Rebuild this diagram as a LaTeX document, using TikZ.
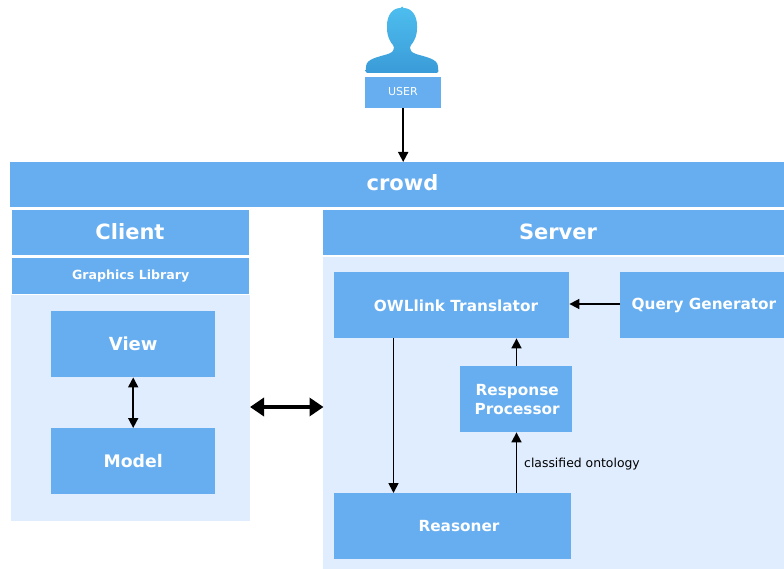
\documentclass[tikz,border=0pt]{standalone}
\usepackage{fontspec}
\setmainfont{DejaVu Sans}
\usetikzlibrary{arrows.meta}
\definecolor{boxblue}{HTML}{66AEF0}
\definecolor{panelblue}{HTML}{E0EDFE}
\definecolor{headtop}{HTML}{4DBDEE}
\definecolor{headbot}{HTML}{3A9BD8}
\tikzset{x=1pt,y=-1pt,
 boxn/.style={fill=boxblue,text=white,inner sep=0pt,align=center,anchor=north west},
 panel/.style={fill=panelblue,anchor=north west,inner sep=0pt},
 conn/.style={draw=black,line width=1.7pt,-{Triangle[length=10pt,width=10pt]}},
 twoway/.style={draw=black,line width=1.7pt,{Triangle[length=10pt,width=10pt]}-{Triangle[length=10pt,width=10pt]}},
 thick2/.style={draw=black,line width=4pt,{Triangle[length=14pt,width=18pt]}-{Triangle[length=14pt,width=18pt]}},
 big/.style={font=\fontsize{21}{25}\selectfont\bfseries},
 mid/.style={font=\fontsize{15.3}{19}\selectfont\bfseries}}
\begin{document}
\begin{tikzpicture}
\useasboundingbox (0,0) rectangle (784,569);
\fill[white] (0,0) rectangle (784,569);
% panels
\node[panel,minimum width=239pt,minimum height=226pt] (clientpanel) at (11,295) {};
\node[panel,minimum width=461pt,minimum height=312pt] (serverpanel) at (323,257) {};
% user
\shade[top color=headtop,bottom color=headbot,rounded corners=1.5pt]
 (402,8) .. controls (392,8) and (387,16) .. (387,27)
 .. controls (387,37) and (391,43) .. (394,46)
 .. controls (394,50) and (393,52) .. (388,54)
 .. controls (378,57) and (367,59) .. (366,67)
 -- (365.5,73) -- (438.5,73) -- (438,67)
 .. controls (437,59) and (426,57) .. (416,54)
 .. controls (411,52) and (410,50) .. (410,46)
 .. controls (413,43) and (417,37) .. (417,27)
 .. controls (417,16) and (412,8) .. (402,8) -- cycle;
\node[boxn,minimum width=76pt,minimum height=31pt] (user) at (365,77) {};
\node[text=white,font=\fontsize{11}{13}\selectfont] (usert) at (403,91) {USER};
\node[boxn,minimum width=774pt,minimum height=45pt] (crowd) at (10,162) {};
\node[big,text=white] (crowdt) at (402.5,183) {crowd};
\node[boxn,minimum width=237pt,minimum height=45pt] (client) at (12,210) {};
\node[big,text=white] (clientt) at (130,232) {Client};
\node[boxn,minimum width=461pt,minimum height=45pt] (server) at (323,210) {};
\node[big,text=white] (servert) at (558,232) {Server};
\node[boxn,minimum width=237pt,minimum height=36pt,font=\fontsize{12.6}{15}\selectfont\bfseries] (gfx) at (12,258) {Graphics Library};
\node[boxn,minimum width=164pt,minimum height=66pt,font=\fontsize{18}{21}\selectfont\bfseries] (view) at (51,311) {View};
\node[boxn,minimum width=164pt,minimum height=66pt,font=\fontsize{17.3}{20}\selectfont\bfseries] (model) at (51,428) {Model};
\node[boxn,minimum width=235pt,minimum height=66pt] (owl) at (334,272) {};
\node[mid,text=white] (owlt) at (456,306) {OWLlink Translator};
\node[boxn,minimum width=164pt,minimum height=66pt] (query) at (620,272) {};
\node[mid,text=white] (queryt) at (704,305.5) {Query Generator};
\node[boxn,mid,minimum width=112pt,minimum height=66pt,text=white] (resp) at (460,366) {\hspace*{2pt}Response\\\hspace*{2pt}Processor};
\node[boxn,minimum width=237pt,minimum height=66pt] (reasoner) at (334,493) {};
\node[mid,text=white] (reasonert) at (459,526) {Reasoner};
% connectors
\draw[conn] (user.south) -- (crowd.north -| user.south);
\draw[twoway] (view.south) -- (model.north);
\coordinate (ta) at (250,407);
\coordinate (tb) at (323.5,407);
\draw[thick2] (ta) -- (tb);
\coordinate (qy) at (0,304);
\draw[conn] (query.west |- qy) -- (owl.east |- qy);
\coordinate (upx) at (516.5,0);
\draw[conn] (resp.north -| upx) -- (owl.south -| upx);
\draw[conn] (reasoner.north -| upx) -- (resp.south -| upx);
\node[text=black,font=\fontsize{12.4}{15}\selectfont,anchor=west,inner sep=0pt] (lbl) at (524,464) {classified ontology};
\coordinate (dnx) at (393.5,0);
\draw[conn] (owl.south -| dnx) -- (reasoner.north -| dnx);
\end{tikzpicture}
\end{document}
